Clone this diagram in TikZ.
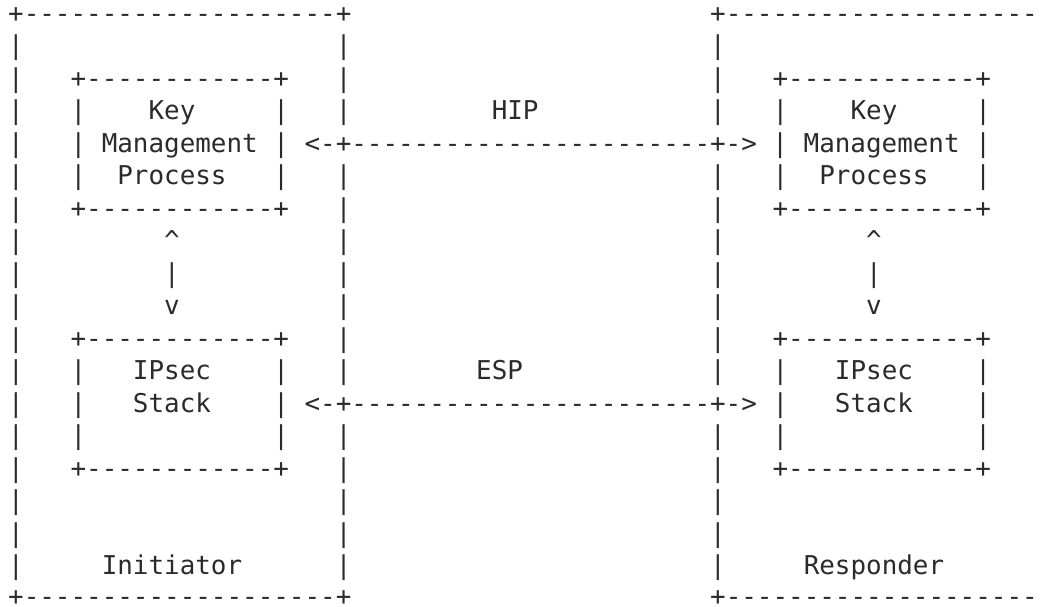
\documentclass[tikz,border=0pt]{standalone}
\usepackage{fontspec}
\setmonofont{DejaVu Sans Mono}
\definecolor{ink}{HTML}{2B2B2B}
\newlength{\asciiw}
\setlength{\asciiw}{15.6pt}
\newcommand\myskip[1]{\hspace*{#1\asciiw}}
\tikzset{
  asciirow/.style={anchor=base west, inner sep=0pt, outer sep=0pt, text=ink,
    font=\ttfamily\fontsize{25.91pt}{32pt}\selectfont},
}
\begin{document}
\begin{tikzpicture}[x=1pt,y=-1pt]
\useasboundingbox (0,0) rectangle (1044,607);
\fill[white] (0,0) rectangle (1044,607);
\node[asciirow] (r0) at (8.2,{22.4+32.5*0}) {+--------------------+\myskip{23}+--------------------};
\node[asciirow] (r1) at (8.2,{22.4+32.5*1}) {|\myskip{20}|\myskip{23}|};
\node[asciirow] (r2) at (8.2,{22.4+32.5*2}) {|\myskip{3}+------------+\myskip{3}|\myskip{23}|\myskip{3}+------------+};
\node[asciirow] (r3) at (8.2,{22.4+32.5*3}) {|\myskip{3}|\myskip{4}Key\myskip{5}|\myskip{3}|\myskip{9}HIP\myskip{11}|\myskip{3}|\myskip{4}Key\myskip{5}|};
\node[asciirow] (r4) at (8.2,{22.4+32.5*4}) {|\myskip{3}|\myskip{1}Management\myskip{1}|\myskip{1}<-+-----------------------+->\myskip{1}|\myskip{1}Management\myskip{1}|};
\node[asciirow] (r5) at (8.2,{22.4+32.5*5}) {|\myskip{3}|\myskip{2}Process\myskip{3}|\myskip{3}|\myskip{23}|\myskip{3}|\myskip{2}Process\myskip{3}|};
\node[asciirow] (r6) at (8.2,{22.4+32.5*6}) {|\myskip{3}+------------+\myskip{3}|\myskip{23}|\myskip{3}+------------+};
\node[asciirow] (r7) at (8.2,{22.4+32.5*7}) {|\myskip{9}\textasciicircum\myskip{10}|\myskip{23}|\myskip{9}\textasciicircum};
\node[asciirow] (r8) at (8.2,{22.4+32.5*8}) {|\myskip{9}|\myskip{10}|\myskip{23}|\myskip{9}|};
\node[asciirow] (r9) at (8.2,{22.4+32.5*9}) {|\myskip{9}v\myskip{10}|\myskip{23}|\myskip{9}v};
\node[asciirow] (r10) at (8.2,{22.4+32.5*10}) {|\myskip{3}+------------+\myskip{3}|\myskip{23}|\myskip{3}+------------+};
\node[asciirow] (r11) at (8.2,{22.4+32.5*11}) {|\myskip{3}|\myskip{3}IPsec\myskip{4}|\myskip{3}|\myskip{8}ESP\myskip{12}|\myskip{3}|\myskip{3}IPsec\myskip{4}|};
\node[asciirow] (r12) at (8.2,{22.4+32.5*12}) {|\myskip{3}|\myskip{3}Stack\myskip{4}|\myskip{1}<-+-----------------------+->\myskip{1}|\myskip{3}Stack\myskip{4}|};
\node[asciirow] (r13) at (8.2,{22.4+32.5*13}) {|\myskip{3}|\myskip{12}|\myskip{3}|\myskip{23}|\myskip{3}|\myskip{12}|};
\node[asciirow] (r14) at (8.2,{22.4+32.5*14}) {|\myskip{3}+------------+\myskip{3}|\myskip{23}|\myskip{3}+------------+};
\node[asciirow] (r15) at (8.2,{22.4+32.5*15}) {|\myskip{20}|\myskip{23}|};
\node[asciirow] (r16) at (8.2,{22.4+32.5*16}) {|\myskip{20}|\myskip{23}|};
\node[asciirow] (r17) at (8.2,{22.4+32.5*17}) {|\myskip{5}Initiator\myskip{6}|\myskip{23}|\myskip{5}Responder};
\node[asciirow] (r18) at (8.2,605.6) {+--------------------+\myskip{23}+--------------------};
\end{tikzpicture}
\end{document}
